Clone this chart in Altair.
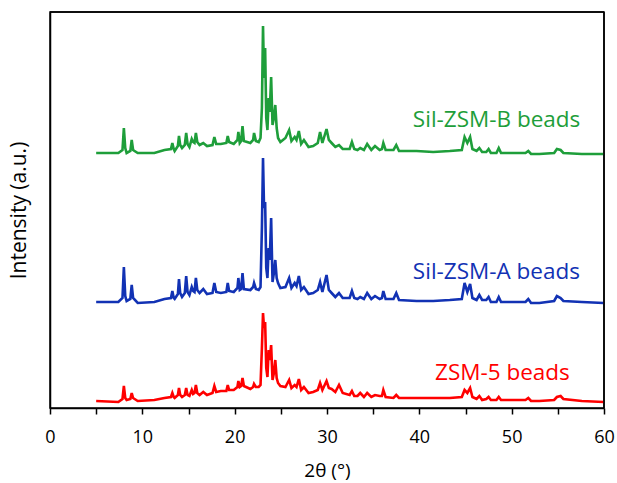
import altair as alt
import pandas as pd

# 2theta positions (degrees) shared by all three patterns
two_theta = [5.0, 7.4, 7.85, 8.0, 8.15, 8.3, 8.7, 8.85, 9.0, 9.5,
             11.3, 12.4, 13.1, 13.25, 13.4, 13.5, 13.85, 13.97, 14.1, 14.3,
             14.6, 14.75, 14.9, 15.1, 15.35, 15.5, 15.65, 15.8, 15.95, 16.2,
             16.6, 17.0, 17.6, 17.8, 18.0, 18.5, 19.1, 19.25, 19.4, 19.9,
             20.3, 20.4, 20.55, 20.7, 20.85, 21.0, 21.7, 22.0, 22.1, 22.3,
             22.6, 22.8, 22.95, 23.07, 23.18, 23.3, 23.42, 23.55, 23.68, 23.8,
             23.95, 24.1, 24.25, 24.4, 24.55, 24.7, 24.95, 25.5, 25.9, 26.15,
             26.5, 26.7, 26.95, 27.2, 27.5, 28.0, 28.5, 29.0, 29.25, 29.5,
             29.95, 30.2, 30.5, 30.9, 31.3,
             31.7, 32.45, 32.7, 32.95, 33.3, 33.6, 34.0, 34.35, 34.8, 35.2,
             35.7, 35.95, 36.1, 36.35, 37.2, 37.5, 37.8, 39.7, 41.5, 43.3,
             44.6, 44.9, 45.2, 45.5, 45.75, 46.2, 46.5, 46.8, 47.25, 47.5,
             47.75, 48.35, 48.6, 48.85, 50.6, 51.5, 51.8, 52.1, 53.0, 54.6,
             54.9, 55.3, 55.6, 57.6, 59.95]

# Offset intensities (a.u.) for each pattern
sil_b = [255, 255, 258, 280, 260, 255, 257, 268, 258, 255,
         255, 258, 259, 265, 259, 257, 262, 272, 263, 260,
         263, 275, 264, 261, 269, 266, 265, 275, 266, 263,
         265, 262, 263, 271, 264, 264, 265, 272, 266, 264,
         268, 276, 265, 267, 282, 267, 265, 268, 275, 267,
         266, 270, 300, 382, 330, 360, 290, 278, 310, 296,
         331, 283, 290, 303, 280, 270, 266, 270, 278, 267,
         271, 268, 277, 264, 268, 261, 262, 265, 276, 265,
         279, 268, 265, 261, 263,
         259, 259, 266, 259, 258, 260, 258, 264, 258, 262,
         258, 259, 265, 258, 258, 263, 257, 257, 256, 257,
         258, 271, 265, 271, 259, 257, 260, 256, 256, 259,
         255, 255, 260, 255, 255, 255, 257, 254, 254, 255,
         259, 258, 255, 254, 254]

sil_a = [106, 106, 110, 141, 112, 107, 109, 123, 110, 105,
         106, 109, 110, 117, 110, 109, 114, 129, 115, 111,
         115, 132, 116, 113, 121, 117, 116, 130, 118, 115,
         119, 114, 115, 125, 116, 115, 116, 125, 117, 116,
         120, 130, 118, 119, 135, 119, 118, 121, 125, 119,
         118, 121, 180, 250, 200, 206, 140, 130, 160, 148,
         190, 126, 135, 148, 130, 125, 120, 121, 130, 120,
         125, 122, 132, 118, 121, 114, 115, 118, 126, 116,
         133, 118, 115, 111, 115,
         110, 110, 117, 110, 109, 111, 109, 115, 109, 112,
         109, 110, 117, 109, 109, 115, 108, 107, 107, 108,
         109, 125, 116, 124, 110, 108, 113, 108, 108, 111,
         106, 106, 111, 106, 106, 106, 109, 105, 105, 107,
         112, 110, 107, 106, 105]

zsm5 = [7, 6, 9, 22, 10, 8, 9, 15, 10, 7,
        8, 10, 11, 15, 11, 10, 13, 20, 13, 11,
        13, 20, 13, 12, 18, 14, 15, 23, 15, 13,
        16, 13, 15, 22, 16, 17, 17, 23, 18, 18,
        21, 27, 21, 22, 30, 22, 19, 21, 24, 21,
        21, 23, 60, 95, 80, 86, 40, 31, 58, 48,
        63, 28, 35, 48, 30, 25, 22, 21, 28, 20,
        23, 21, 29, 18, 21, 15, 16, 18, 25, 18,
        27, 20, 19, 16, 23,
        15, 13, 17, 12, 12, 15, 11, 15, 11, 13,
        12, 12, 18, 11, 10, 13, 10, 10, 10, 10,
        11, 18, 15, 20, 11, 9, 12, 8, 9, 11,
        8, 8, 11, 8, 8, 8, 10, 7, 7, 8,
        11, 12, 9, 7, 6]

series_names = ["ZSM-5 beads", "Sil-ZSM-A beads", "Sil-ZSM-B beads"]
series_colors = ["#FF0000", "#1232B4", "#1E9E3A"]
label_x = [41.7, 39.3, 39.3]
label_y = [35, 136, 288]
x_ticks = [0, 5, 10, 15, 20, 25, 30, 35, 40, 45, 50, 55, 60]

rows = []
for name, ys in zip(series_names, [zsm5, sil_a, sil_b]):
    for i, (t, v) in enumerate(zip(two_theta, ys)):
        rows.append({"series": name, "theta": t, "intensity": v, "order": i})
df = pd.DataFrame(rows)
labels = pd.DataFrame({"series": series_names, "lx": label_x, "ly": label_y})

FONT = "Open Sans"
W, H = 554, 396
color_scale = alt.Scale(domain=series_names, range=series_colors)

lines = alt.Chart(df).mark_line(strokeWidth=2.6).encode(
    x=alt.X("theta:Q",
            scale=alt.Scale(domain=[0, 60], nice=False, zero=False),
            axis=alt.Axis(title="2θ (°)", values=x_ticks,
                          labelExpr="datum.value % 10 == 0 ? datum.label : ''",
                          labelFlush=False,
                          grid=False, tickSize=6, tickColor="black", tickWidth=1.5,
                          domainColor="black", domainWidth=1.5,
                          labelFont=FONT, labelFontSize=18, labelColor="black",
                          labelPadding=14, titleFont=FONT, titleFontSize=19,
                          titleFontWeight="normal", titleColor="black",
                          titlePadding=15)),
    y=alt.Y("intensity:Q",
            scale=alt.Scale(domain=[0, 396], nice=False, zero=False),
            axis=alt.Axis(title="Intensity (a.u.)", labels=False, ticks=False,
                          grid=False, domainColor="black", domainWidth=1.5,
                          titleFont=FONT, titleFontSize=21, titleFontWeight="normal",
                          titleColor="black", titlePadding=21)),
    color=alt.Color("series:N", scale=color_scale, legend=None),
    detail="series:N",
    order="order:Q",
)

texts = alt.Chart(labels).mark_text(align="left", baseline="middle",
                                    font=FONT, fontSize=22.5).encode(
    x="lx:Q",
    y="ly:Q",
    text="series:N",
    color=alt.Color("series:N", scale=color_scale, legend=None),
)

frame_src = pd.DataFrame({"k": [0]})
top_edge = alt.Chart(frame_src).mark_rule(color="black", strokeWidth=1.5).encode(
    x=alt.value(0), x2=alt.value(W), y=alt.value(0))
right_edge = alt.Chart(frame_src).mark_rule(color="black", strokeWidth=1.5).encode(
    x=alt.value(W), y=alt.value(0), y2=alt.value(H))

chart = alt.layer(lines, texts, top_edge, right_edge).properties(
    width=W, height=H,
    autosize=alt.AutoSizeParams(type="none"),
    padding={"left": 50, "top": 12, "right": 13, "bottom": 75},
).configure_view(stroke="black", strokeWidth=1.5)

chart.save("out.html", embed_options={"renderer": "svg", "actions": False})
